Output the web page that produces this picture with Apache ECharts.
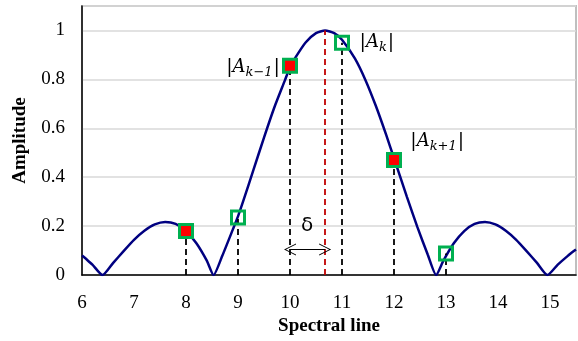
<!DOCTYPE html>
<html>
<head>
<meta charset="utf-8">
<script src="https://cdn.jsdelivr.net/npm/echarts@6/dist/echarts.min.js"></script>
<style>html,body{margin:0;padding:0;background:#fff;}#c{width:578px;height:341px;}</style>
</head>
<body>
<div id="c"></div>
<script>
// Spectrum curve
var curveX = [6.0, 6.1, 6.2, 6.395, 6.6, 6.8, 7.0, 7.2, 7.4, 7.6, 7.8, 8.0, 8.2, 8.4, 8.53,
  8.7, 8.9, 9.0, 9.1, 9.3, 9.5, 9.7, 9.9, 10.0, 10.1, 10.3, 10.5, 10.675, 10.85, 11.0,
  11.25, 11.45, 11.65, 11.85, 12.0, 12.25, 12.45, 12.65, 12.81, 12.95, 13.15, 13.35,
  13.55, 13.75, 13.95, 14.15, 14.35, 14.55, 14.75, 14.95, 15.15, 15.35, 15.42, 15.5];
var curveY = [0.080, 0.062, 0.043, 0.0, 0.050, 0.098, 0.144, 0.181, 0.207, 0.217, 0.209, 0.180, 0.130, 0.059, 0.0,
  0.080, 0.186, 0.240, 0.302, 0.432, 0.562, 0.686, 0.795, 0.850, 0.888, 0.951, 0.989, 1.0, 0.989, 0.962,
  0.885, 0.798, 0.692, 0.573, 0.478, 0.319, 0.196, 0.083, 0.0, 0.059, 0.130, 0.180,
  0.209, 0.217, 0.207, 0.181, 0.144, 0.098, 0.050, 0.0, 0.043, 0.080, 0.092, 0.105];

// Spectral line samples
var markerX = [8, 9, 10, 11, 12, 13];
var markerY = [0.18, 0.235, 0.856, 0.95, 0.47, 0.088];
var markerFilled = [true, false, true, false, true, false];

// True peak and offset
var peakX = 10.675;
var peakY = 1.0;
var deltaFrom = 10;
var arrowY = 0.105;

// Annotation labels
var labelX = [9.29, 11.67, 12.83];
var labelY = [0.85, 0.951, 0.547];
var labelSub = ['k\u22121', 'k', 'k+1'];
var deltaLabelX = 10.33;
var deltaLabelY = 0.2;

var serif = 'Liberation Serif';
var mathFont = 'DejaVu Serif';

var chart = echarts.init(document.getElementById('c'), null, {renderer: 'canvas'});

var guideLines = markerX.map(function (x, i) {
  return [{coord: [x, 0]}, {coord: [x, markerY[i]]}];
});

var labelRich = {
  bar: {fontFamily: mathFont, fontSize: 19, color: '#000'},
  a: {fontFamily: mathFont, fontStyle: 'italic', fontSize: 18, color: '#000'},
  s: {fontFamily: mathFont, fontStyle: 'italic', fontSize: 13, color: '#000', padding: [10, 1, 0, 0]}
};

var arrowPath = 'path://M0,12 L6,0 L12,12 L11,12 L6,2 L1,12 Z';

var option = {
  animation: false,
  grid: {left: 82, right: 2, top: 6, bottom: 63, show: true, borderColor: '#bfbfbf', borderWidth: 2},
  xAxis: {
    type: 'value', min: 6, max: 15.5, interval: 1,
    axisLine: {show: true, onZero: false, lineStyle: {color: '#000', width: 1.5}},
    axisTick: {show: false},
    splitLine: {show: false},
    axisLabel: {fontFamily: serif, fontSize: 19, color: '#000', margin: 18, showMaxLabel: false},
    name: 'Spectral line', nameLocation: 'middle', nameGap: 39,
    nameTextStyle: {fontFamily: serif, fontWeight: 'bold', fontSize: 19, color: '#000'}
  },
  yAxis: {
    type: 'value', min: 0, max: 1.1, interval: 0.2,
    axisLine: {show: true, lineStyle: {color: '#000', width: 1.5}},
    axisTick: {show: false},
    splitLine: {show: true, lineStyle: {color: '#d9d9d9', width: 1.5}},
    axisLabel: {fontFamily: serif, fontSize: 19, color: '#000', margin: 17, showMaxLabel: false},
    name: 'Amplitude', nameLocation: 'middle', nameGap: 52, nameRotate: 90,
    nameTextStyle: {fontFamily: serif, fontWeight: 'bold', fontSize: 19, color: '#000'}
  },
  series: [
    {
      type: 'line', silent: true, z: 1,
      data: [],
      markLine: {
        silent: true, symbol: ['none', 'none'], label: {show: false},
        lineStyle: {color: '#000', type: [6, 4], width: 1.8},
        data: guideLines
      }
    },
    {
      type: 'line', silent: true, z: 1,
      data: [],
      markLine: {
        silent: true, symbol: ['none', 'none'], label: {show: false},
        lineStyle: {color: '#c00000', type: [6, 4], width: 1.8},
        data: [[{coord: [peakX, 0]}, {coord: [peakX, peakY]}]]
      }
    },
    {
      type: 'line', silent: true, z: 1,
      data: [],
      markLine: {
        silent: true,
        symbol: [arrowPath, arrowPath],
        symbolSize: [12, 12],
        label: {show: false},
        lineStyle: {color: '#000', type: 'solid', width: 1.2},
        data: [[{coord: [deltaFrom, arrowY]}, {coord: [peakX, arrowY]}]]
      }
    },
    {
      type: 'line', silent: true, z: 3,
      showSymbol: false, smooth: 0.2,
      lineStyle: {color: '#000080', width: 2.5},
      data: curveX.map(function (x, i) { return [x, curveY[i]]; })
    },
    {
      type: 'scatter', silent: true, z: 5,
      symbol: 'rect', symbolSize: 13,
      data: markerX.map(function (x, i) {
        return {
          value: [x, markerY[i]],
          itemStyle: {
            opacity: 1,
            color: markerFilled[i] ? '#ff0000' : 'rgba(0,0,0,0)',
            borderColor: '#00b050', borderWidth: 3
          }
        };
      })
    },
    {
      type: 'scatter', silent: true, z: 6,
      symbolSize: 0, itemStyle: {opacity: 1},
      label: {
        show: true, position: 'inside',
        formatter: function (p) { return '{bar||}{a|A}{s|' + labelSub[p.dataIndex] + '}{bar||}'; },
        rich: labelRich
      },
      data: labelX.map(function (x, i) { return [x, labelY[i]]; })
    },
    {
      type: 'scatter', silent: true, z: 6,
      symbolSize: 0, itemStyle: {opacity: 1},
      label: {show: true, position: 'inside', formatter: '\u03b4', fontFamily: 'DejaVu Sans', fontSize: 20, color: '#000'},
      data: [[deltaLabelX, deltaLabelY]]
    }
  ]
};
chart.setOption(option);
</script>
</body>
</html>
